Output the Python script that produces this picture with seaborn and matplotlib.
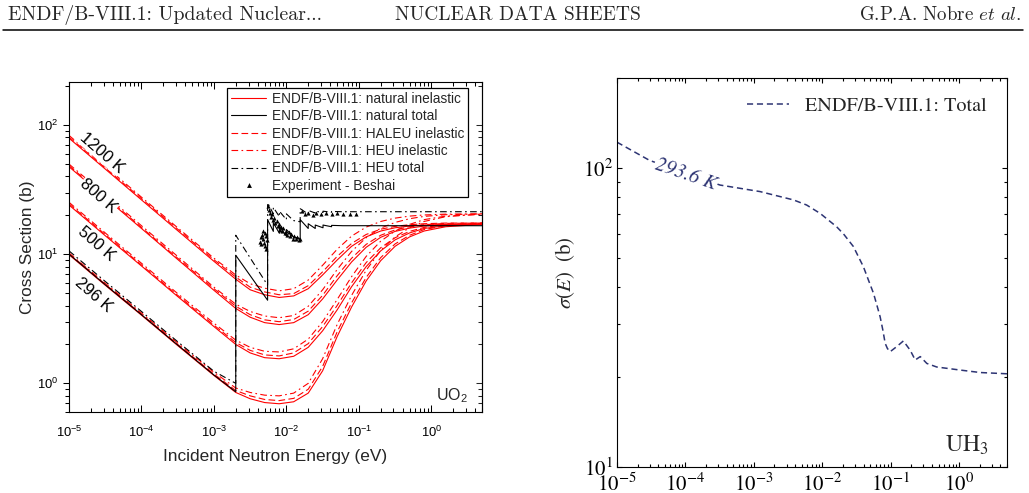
import numpy as np
import pandas as pd
import matplotlib
matplotlib.use("Agg")
import matplotlib.pyplot as plt
from matplotlib.lines import Line2D
from matplotlib.ticker import LogLocator, NullFormatter
import seaborn as sns

sns.set_style("ticks")
plt.rcParams['font.family'] = ['Liberation Sans', 'DejaVu Sans']
plt.rcParams['mathtext.fontset'] = 'custom'
plt.rcParams['mathtext.rm'] = 'Liberation Sans'
plt.rcParams['mathtext.it'] = 'Liberation Sans:italic'
plt.rcParams['mathtext.bf'] = 'Liberation Sans:bold'
plt.rcParams['axes.unicode_minus'] = True

# ---------------- data: UO2 panel ----------------
E_grid = [1e-5, 3.16e-5, 1e-4, 3.16e-4, 1e-3, 2e-3, 3.16e-3, 5.01e-3, 7.94e-3, 1.26e-2,
          2e-2, 3.16e-2, 5.01e-2, 7.94e-2, 0.126, 0.2, 0.316, 0.501, 0.794, 1.58, 5.0]

temps = ["296 K", "500 K", "800 K", "1200 K"]

nat_296 = [9.9, 5.75, 3.37, 1.96, 1.15, 0.85, 0.76, 0.71, 0.695, 0.72, 0.84, 1.25, 2.3, 3.9, 6.2, 8.9, 11.5, 13.6, 15.1, 16.3, 17.0]
haleu_296 = [10.1, 5.85, 3.43, 2.0, 1.18, 0.88, 0.8, 0.75, 0.735, 0.765, 0.9, 1.35, 2.5, 4.2, 6.6, 9.4, 12.0, 14.0, 15.5, 16.6, 17.3]
heu_296 = [10.2, 5.95, 3.5, 2.05, 1.22, 0.92, 0.85, 0.81, 0.8, 0.84, 1.0, 1.55, 2.85, 4.8, 7.5, 10.7, 13.6, 16.0, 17.9, 19.5, 20.4]

nat_500 = [24.0, 13.9, 8.1, 4.7, 2.75, 2.0, 1.72, 1.58, 1.55, 1.62, 1.9, 2.55, 3.7, 5.6, 8.0, 10.6, 12.9, 14.6, 15.8, 16.6, 17.1]
haleu_500 = [24.5, 14.2, 8.25, 4.8, 2.82, 2.07, 1.8, 1.66, 1.63, 1.72, 2.03, 2.75, 4.0, 6.0, 8.6, 11.2, 13.4, 15.0, 16.1, 16.9, 17.4]
heu_500 = [25.2, 14.6, 8.5, 4.95, 2.92, 2.16, 1.9, 1.77, 1.75, 1.85, 2.2, 3.0, 4.45, 6.7, 9.6, 12.6, 15.1, 17.0, 18.5, 19.7, 20.4]

nat_800 = [47.5, 27.4, 15.8, 9.1, 5.25, 3.8, 3.25, 2.95, 2.85, 2.95, 3.4, 4.5, 6.3, 8.7, 11.3, 13.5, 15.0, 15.9, 16.5, 16.9, 17.1]
haleu_800 = [48.4, 28.0, 16.1, 9.3, 5.4, 3.95, 3.4, 3.1, 3.0, 3.12, 3.62, 4.8, 6.8, 9.3, 11.9, 14.0, 15.4, 16.3, 16.9, 17.3, 17.4]
heu_800 = [49.8, 28.8, 16.6, 9.6, 5.55, 4.1, 3.6, 3.32, 3.22, 3.35, 3.95, 5.3, 7.6, 10.5, 13.4, 15.9, 17.6, 18.8, 19.6, 20.2, 20.5]

nat_1200 = [79.0, 45.6, 26.3, 15.2, 8.8, 6.4, 5.3, 4.85, 4.62, 4.75, 5.4, 6.9, 9.0, 11.5, 13.6, 15.1, 16.0, 16.5, 16.8, 17.0, 17.1]
haleu_1200 = [80.6, 46.5, 26.9, 15.6, 9.05, 6.65, 5.55, 5.1, 4.85, 4.95, 5.7, 7.3, 9.6, 12.1, 14.2, 15.6, 16.4, 16.9, 17.2, 17.4, 17.4]
heu_1200 = [83.0, 47.9, 27.6, 16.0, 9.3, 6.9, 5.9, 5.45, 5.2, 5.4, 6.3, 8.2, 10.9, 13.8, 16.2, 17.9, 19.0, 19.7, 20.1, 20.4, 20.5]

E_tot = [1e-5, 3.16e-5, 1e-4, 3.16e-4, 1e-3, 2e-3, 2e-3, 5.5e-3, 5.5e-3, 6.6e-3, 6.6e-3, 8.0e-3, 8.0e-3,
         1.0e-2, 1.0e-2, 1.25e-2, 1.55e-2, 1.55e-2, 2.0e-2, 2.0e-2, 2.5e-2, 2.5e-2, 3.2e-2, 3.2e-2,
         4.2e-2, 4.2e-2, 6e-2, 5.0]
tot_nat = [10.0, 5.8, 3.4, 1.98, 1.16, 0.86, 9.8, 4.4, 18.5, 15.0, 17.5, 14.5, 16.5, 13.8, 15.5, 13.6,
           13.2, 18.5, 15.8, 17.2, 15.8, 16.8, 16.0, 16.8, 16.3, 16.7, 16.6, 16.6]
tot_heu = [10.6, 6.15, 3.6, 2.1, 1.24, 1.0, 14.0, 5.75, 25.0, 20.5, 23.0, 19.5, 21.5, 18.5, 20.5, 18.2,
           17.8, 22.5, 20.4, 21.8, 20.8, 21.5, 21.0, 21.5, 21.1, 21.4, 21.3, 21.3]

E_exp = [4.3e-3, 4.4e-3, 4.5e-3, 4.6e-3, 4.7e-3, 4.8e-3, 4.9e-3, 5.0e-3, 5.1e-3, 5.2e-3, 5.3e-3, 5.4e-3,
         5.6e-3, 5.8e-3, 6.0e-3, 6.2e-3, 6.4e-3, 6.6e-3, 6.8e-3, 7.0e-3, 7.3e-3, 7.6e-3, 7.9e-3, 8.2e-3,
         8.5e-3, 8.8e-3, 9.1e-3, 9.5e-3, 9.9e-3, 1.03e-2, 1.07e-2, 1.12e-2, 1.17e-2, 1.22e-2, 1.28e-2,
         1.34e-2, 1.4e-2, 1.47e-2, 1.55e-2,
         1.65e-2, 1.8e-2, 2.0e-2, 2.3e-2, 2.6e-2, 3.0e-2, 3.5e-2, 4.2e-2, 5.0e-2, 6.0e-2, 7.5e-2, 9.0e-2]
s_exp = [12.5, 13.5, 12.0, 14.0, 13.0, 15.0, 12.2, 14.5, 11.5, 13.8, 11.0, 12.8,
         23.5, 22.0, 21.0, 19.5, 20.5, 18.5, 19.0, 17.5, 18.2, 16.5, 17.0, 15.5,
         16.2, 15.0, 15.8, 14.5, 15.2, 14.0, 14.8, 13.8, 14.2, 13.2, 13.9,
         13.0, 13.5, 12.8, 13.2,
         21.5, 20.5, 21.0, 20.2, 20.8, 20.4, 20.9, 20.5, 20.7, 20.4, 20.6, 20.5]

label_pos_E = [2.2e-5, 2.42e-5, 2.54e-5, 2.83e-5]
label_pos_s = [4.85, 12.1, 28.2, 60.4]

legend_labels = ["ENDF/B-VIII.1: natural inelastic", "ENDF/B-VIII.1: natural total",
                 "ENDF/B-VIII.1: HALEU inelastic", "ENDF/B-VIII.1: HEU inelastic",
                 "ENDF/B-VIII.1: HEU total", "Experiment - Beshai"]

# ---------------- data: UH3 panel ----------------
E_uh3 = [1e-5, 3.0e-5, 3.2e-4, 1.23e-3, 3.8e-3, 5.9e-3, 9.3e-3, 1.62e-2, 2.04e-2, 2.85e-2, 3.37e-2,
         3.98e-2, 4.72e-2, 5.6e-2, 6.27e-2, 7.0e-2, 7.67e-2, 8.3e-2, 8.95e-2, 9.8e-2, 0.123, 0.153,
         0.192, 0.228, 0.27, 0.337, 0.47, 1.03, 2.03, 5.0]
s_uh3 = [122, 106, 87.7, 83.4, 78.2, 75.2, 70.5, 63.6, 60.2, 54.6, 50.5,
         46.8, 42.2, 38.1, 34.8, 31.8, 28.7, 25.9, 24.9, 24.3, 25.3, 26.4,
         24.6, 22.8, 23.4, 22.2, 21.6, 21.1, 20.7, 20.5]

# ---------------- figure ----------------
W, H = 1029, 493
fig = plt.figure(figsize=(W / 100, H / 100), dpi=100)


def px_axes(x0, y0, x1, y1):
    return fig.add_axes([x0 / W, 1 - y1 / H, (x1 - x0) / W, (y1 - y0) / H])


axL = px_axes(69, 82, 482, 412)
axR = px_axes(617, 78, 1007, 467)

RED = '#ff0000'
DASH = (0, (6, 3))
DASHDOT = (0, (6, 3, 1.5, 3))
LW = 0.8

for ax in (axL, axR):
    ax.set_xscale('log')
    ax.set_yscale('log')

curves = {
    "296 K": (nat_296, haleu_296, heu_296),
    "500 K": (nat_500, haleu_500, heu_500),
    "800 K": (nat_800, haleu_800, heu_800),
    "1200 K": (nat_1200, haleu_1200, heu_1200),
}
for T in temps:
    for vals, ls in zip(curves[T], ['-', DASH, DASHDOT]):
        sns.lineplot(x=E_grid, y=vals, ax=axL, color=RED, lw=LW, linestyle=ls,
                     estimator=None, sort=False, legend=False, zorder=2)

sns.lineplot(x=E_tot, y=tot_nat, ax=axL, color='k', lw=LW, linestyle='-',
             estimator=None, sort=False, legend=False, zorder=3)
sns.lineplot(x=E_tot, y=tot_heu, ax=axL, color='k', lw=LW, linestyle=DASHDOT,
             estimator=None, sort=False, legend=False, zorder=3)
sns.scatterplot(x=E_exp, y=s_exp, ax=axL, marker='^', s=9, color='k', linewidth=0,
                legend=False, zorder=4)

for T, xe, ys in zip(temps, label_pos_E, label_pos_s):
    bb = None if T == "296 K" else dict(boxstyle='square,pad=0.02', fc='white', ec='none')
    axL.text(xe, ys, T, rotation=-41, rotation_mode='anchor', ha='center', va='center',
             fontsize=12, color='k', zorder=6, bbox=bb)

axL.text(0.965, 0.035, r'UO$_2$', transform=axL.transAxes, ha='right', va='baseline',
         fontsize=11.5)

axL.set_xlim(1e-5, 5)
axL.set_ylim(0.6, 215)
for axis in (axL.xaxis, axL.yaxis):
    axis.set_major_locator(LogLocator(base=10, numticks=20))
    axis.set_minor_locator(LogLocator(base=10, subs=np.arange(2, 10), numticks=100))
    axis.set_minor_formatter(NullFormatter())

axL.tick_params(axis='x', which='both', direction='in', top=True, bottom=True,
                labelsize=9.4, pad=9.5, width=0.75, colors='k')
axL.tick_params(axis='x', which='major', length=5)
axL.tick_params(axis='x', which='minor', length=3)
axL.tick_params(axis='y', which='both', direction='out', left=True, right=False,
                labelsize=9.4, pad=3, width=0.75, colors='k')
axL.tick_params(axis='y', which='major', length=4.5)
axL.tick_params(axis='y', which='minor', length=2.6)

sec = axL.secondary_yaxis('right')
sec.yaxis.set_major_locator(LogLocator(base=10, numticks=20))
sec.yaxis.set_minor_locator(LogLocator(base=10, subs=np.arange(2, 10), numticks=100))
sec.tick_params(axis='y', which='both', direction='in', labelright=False, width=0.75)
sec.tick_params(axis='y', which='major', length=4.5)
sec.tick_params(axis='y', which='minor', length=2.6)
sec.spines['right'].set_linewidth(0.8)

for sp in axL.spines.values():
    sp.set_linewidth(0.8)
    sp.set_color('k')
    sp.set_visible(True)

axL.set_xlabel("Incident Neutron Energy (eV)", fontsize=12.4)
axL.set_ylabel("Cross Section (b)", fontsize=12.4)
axL.xaxis.set_label_coords(0.5, -0.112)
axL.yaxis.set_label_coords(-0.082, 0.5)

handles = [
    Line2D([], [], color=RED, lw=LW, ls='-'),
    Line2D([], [], color='k', lw=LW, ls='-'),
    Line2D([], [], color=RED, lw=LW, ls=DASH),
    Line2D([], [], color=RED, lw=LW, ls=DASHDOT),
    Line2D([], [], color='k', lw=LW, ls=DASHDOT),
    Line2D([], [], color='k', ls='none', marker='^', ms=3.5, mew=0),
]
legL = axL.legend(handles, legend_labels, loc='upper right', bbox_to_anchor=(0.966, 0.982),
                  borderaxespad=0, frameon=True, fancybox=False, edgecolor='k', framealpha=1,
                  fontsize=9.8, handlelength=2.6, handletextpad=0.4, labelspacing=0.25,
                  borderpad=0.28, numpoints=1)
legL.get_frame().set_linewidth(0.9)
legL.set_zorder(7)

# ---------------- right panel ----------------
NAVY = '#2d3473'
sns.lineplot(x=E_uh3, y=s_uh3, ax=axR, color=NAVY, lw=1.1, linestyle=(0, (4, 2.5)),
             estimator=None, sort=False, legend=False)
axR.set_xlim(1e-5, 5)
axR.set_ylim(10, 200)
for axis in (axR.xaxis, axR.yaxis):
    axis.set_major_locator(LogLocator(base=10, numticks=20))
    axis.set_minor_locator(LogLocator(base=10, subs=np.arange(2, 10), numticks=100))
    axis.set_minor_formatter(NullFormatter())
axR.tick_params(axis='both', which='both', direction='in', top=True, right=True,
                labelsize=15, width=0.8, colors='k', labelfontfamily='STIXGeneral')
axR.tick_params(axis='both', which='major', length=3.8)
axR.tick_params(axis='both', which='minor', length=2.3)
axR.tick_params(axis='x', pad=4.5)
axR.tick_params(axis='y', pad=2.9)
for sp in axR.spines.values():
    sp.set_linewidth(0.8)
    sp.set_color('k')
    sp.set_visible(True)

axR.set_ylabel(r'$\sigma(E)$  (b)', fontsize=15, family='STIXGeneral', math_fontfamily='stix')
axR.yaxis.set_label_coords(-0.103, 0.5)
axR.set_xlabel('')

axR.text(1.0e-4, 95, '293.6 K', rotation=-19, rotation_mode='anchor', ha='center', va='center',
         fontsize=14.5, family='STIXGeneral', style='italic', color=NAVY,
         bbox=dict(boxstyle='square,pad=0.05', fc='white', ec='none'))
axR.text(0.953, 0.04, r'UH$_3$', transform=axR.transAxes, ha='right', va='baseline',
         fontsize=17, family='STIXGeneral', math_fontfamily='stix')

hR = [Line2D([], [], color=NAVY, lw=1.1, ls=(0, (4, 2.5)))]
axR.legend(hR, ["ENDF/B-VIII.1: Total"], loc='upper right', bbox_to_anchor=(0.969, 0.973),
           borderaxespad=0, frameon=False, handlelength=2.1, handletextpad=0.8, borderpad=0.4,
           prop=dict(family='STIXGeneral', size=14.5))

# ---------------- header ----------------
yb = 1 - 20 / H
fig.text(8 / W, yb, "ENDF/B-VIII.1: Updated Nuclear...", family='cmr10', fontsize=14.3,
         va='baseline', ha='left')
fig.text(395 / W, yb, "NUCLEAR DATA SHEETS", family='cmr10', fontsize=14.0,
         va='baseline', ha='left')
fig.text(1021 / W, yb, r'G.P.A. Nobre $\mathit{et\ al.}$', family='cmr10', fontsize=13.6,
         va='baseline', ha='right', math_fontfamily='cm')
fig.add_artist(Line2D([3 / W, 1023 / W], [1 - 30 / H, 1 - 30 / H], transform=fig.transFigure,
                      color='k', lw=1.1))

fig.savefig('out.png', dpi=100)
